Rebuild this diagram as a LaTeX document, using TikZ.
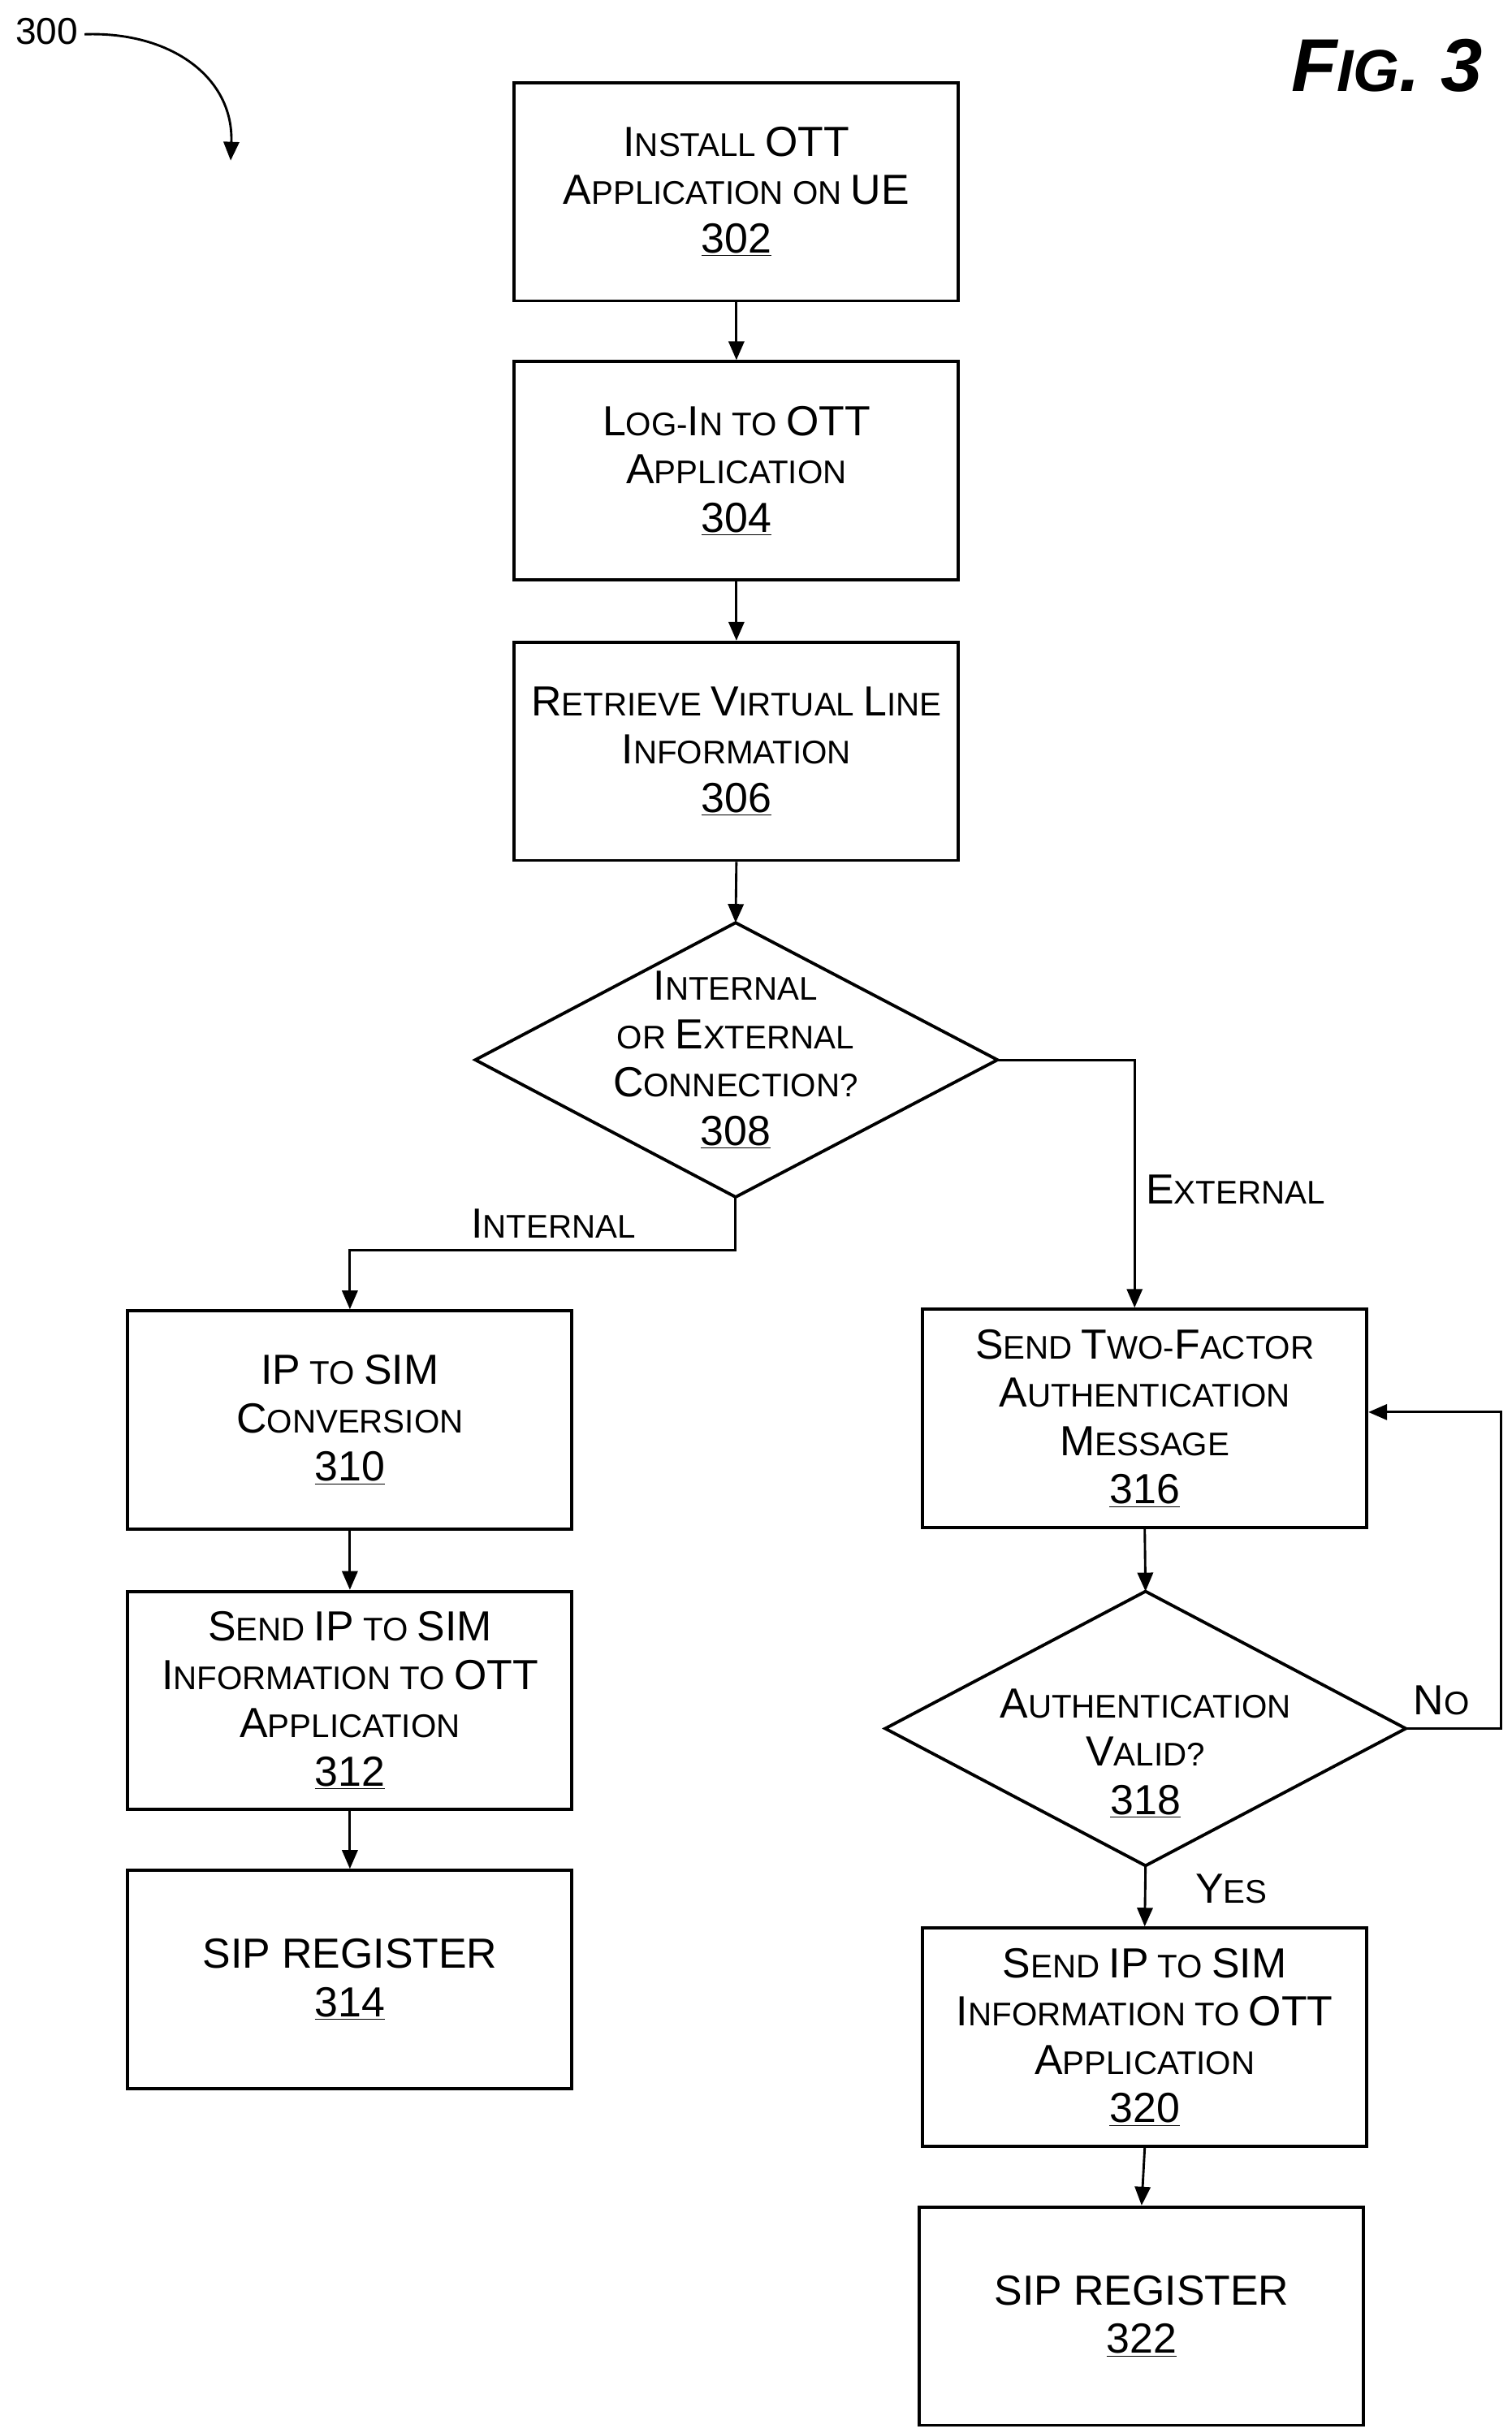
\documentclass[tikz,border=0pt]{standalone}
\usepackage{fontspec}
\setmainfont{Liberation Sans}
\usetikzlibrary{shapes.geometric,arrows.meta}
\newcommand\bc[1]{{\fontsize{27}{31}\selectfont #1}}
\begin{document}
\begin{tikzpicture}[x=1pt,y=-1pt,
 box/.style={draw,line width=2pt,minimum width=285pt,minimum height=140pt,align=center,inner sep=0pt,font=\fontsize{21}{31}\selectfont},
 dia/.style={draw,line width=2pt,diamond,align=center,inner sep=0pt,font=\fontsize{21}{31}\selectfont},
 ar/.style={line width=1.5pt,-{Triangle[length=12pt,width=10pt]}},
 lab/.style={font=\fontsize{21}{31}\selectfont,inner sep=0pt}]
\useasboundingbox (0,0) rectangle (970,1561);
\node[box] (n302) at (472.5,123) {\bc{I}NSTALL \bc{OTT}\\\bc{A}PPLICATION ON \bc{UE}\\\bc{\underline{302}}};
\node[box] (n304) at (472.5,302) {\bc{L}OG-\bc{I}N TO \bc{OTT}\\\bc{A}PPLICATION\\\bc{\underline{304}}};
\node[box] (n306) at (472.5,482) {\bc{R}ETRIEVE \bc{V}IRTUAL \bc{L}INE\\\bc{I}NFORMATION\\\bc{\underline{306}}};
\draw[line width=2pt] (305,680) coordinate (l308) -- (472,592) coordinate (t308) -- (640,680) coordinate (r308) -- (472,768) coordinate (b308) -- cycle;
\node[lab,align=center] (n308) at (472,680) {\bc{I}NTERNAL\\OR \bc{E}XTERNAL\\\bc{C}ONNECTION?\\\bc{\underline{308}}};
\node[box] (n310) at (224.5,911) {\bc{IP} TO \bc{SIM}\\\bc{C}ONVERSION\\\bc{\underline{310}}};
\node[box] (n312) at (224.5,1091) {\bc{S}END \bc{IP} TO \bc{SIM}\\\bc{I}NFORMATION TO \bc{OTT}\\\bc{A}PPLICATION\\\bc{\underline{312}}};
\node[box] (n314) at (224.5,1270) {\bc{SIP REGISTER}\\\bc{\underline{314}}};
\node[box] (n316) at (734.5,910) {\bc{S}END \bc{T}WO-\bc{F}ACTOR\\\bc{A}UTHENTICATION\\\bc{M}ESSAGE\\\bc{\underline{316}}};
\draw[line width=2pt] (568,1109) coordinate (l318) -- (735,1021) coordinate (t318) -- (902,1109) coordinate (r318) -- (735,1197) coordinate (b318) -- cycle;
\node[lab,align=center] (n318) at (735,1125) {\bc{A}UTHENTICATION\\\bc{V}ALID?\\\bc{\underline{318}}};
\node[box] (n320) at (734.5,1307) {\bc{S}END \bc{IP} TO \bc{SIM}\\\bc{I}NFORMATION TO \bc{OTT}\\\bc{A}PPLICATION\\\bc{\underline{320}}};
\node[box] (n322) at (732.5,1486) {\bc{SIP REGISTER}\\\bc{\underline{322}}};
\draw[ar] (n302.south) -- (n304.north);
\draw[ar] (n304.south) -- (n306.north);
\draw[ar] (n306.south) -- (t308);
\draw[ar] (b308) -- (472,802) -| (n310.north);
\draw[ar] (r308) -| (n316.north -| 728,0);
\draw[ar] (n310.south) -- (n312.north);
\draw[ar] (n312.south) -- (n314.north);
\draw[ar] (n316.south) -- (t318);
\draw[ar] (b318) -- (n320.north);
\draw[ar] (n320.south) -- (n322.north);
\draw[ar] (r318) -- (963,1109) |- (n316.east |- 0,906);
\node[lab,anchor=west] (le) at (735,763) {\bc{E}XTERNAL};
\node[lab] (li) at (355,785) {\bc{I}NTERNAL};
\node[lab] (lno) at (925,1091) {\bc{N}O};
\node[lab] (lyes) at (790,1212) {\bc{Y}ES};
\node[lab,font=\fontsize{24}{28}\selectfont] (l300) at (30,20) {300};
\coordinate (c300) at (148,103);
\draw[line width=1.5pt,-{Triangle[length=12pt,width=10pt]}] (l300.east) ++(4,2) .. controls (110,20) and (150,50) .. (c300);
\node[lab,font=\fontsize{48}{50}\selectfont\bfseries\itshape] (fig) at (890,42) {F{\fontsize{38}{40}\selectfont IG}. 3};
\end{tikzpicture}
\end{document}
